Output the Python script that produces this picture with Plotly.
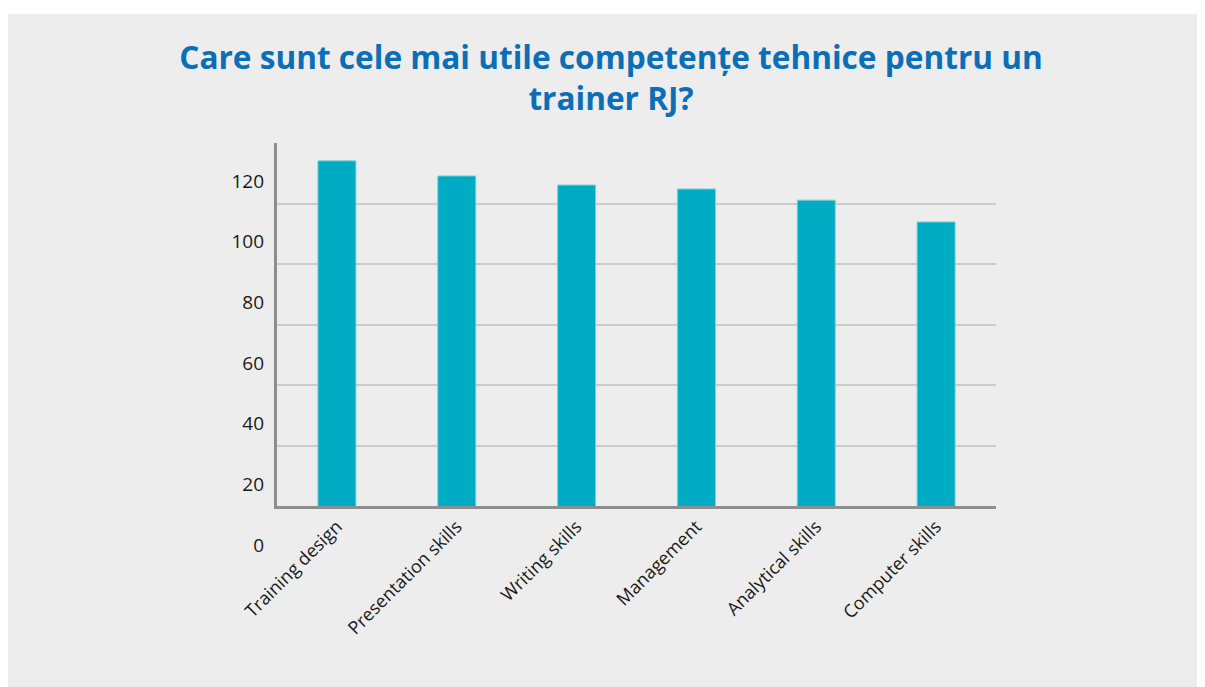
import plotly.graph_objects as go

categories = ["Training design", "Presentation skills", "Writing skills",
              "Management", "Analytical skills", "Computer skills"]
values = [127, 122, 119, 117.7, 114, 106.8]
tick_values = [0, 20, 40, 60, 80, 100, 120]
tick_labels = ["0", "20", "40", "60", "80", "100", "120"]

OFF = 8  # page body margin
W, H = 1205, 687
L = 277 - OFF
R = W - (996 - OFF)
T = 143 - OFF
B = H - (545 - OFF)
ph = H - T - B
pw = W - L - R

BG = "#ECEDEC"
fig = go.Figure()
fig.add_trace(go.Bar(
    x=categories, y=values, marker=dict(color="#00ACC4", line=dict(color="#7ccfdc", width=1)),
    showlegend=False, hoverinfo="x+y"))
fig.add_trace(go.Scatter(
    x=[categories[0]], y=[0], yaxis="y2", mode="markers",
    marker=dict(opacity=0), showlegend=False, hoverinfo="skip"))

fig.update_layout(
    width=W, height=H,
    margin=dict(l=L, r=R, t=T, b=B, pad=0),
    paper_bgcolor="white", plot_bgcolor="rgba(0,0,0,0)",
    bargap=0.683,
    title=dict(text="Care sunt cele mai utile competențe tehnice pentru un<br>trainer RJ?",
               x=603 / W, xanchor="center", xref="container",
               y=1 - 61 / H, yanchor="top", yref="container",
               font=dict(family="Open Sans", size=31.6, color="#0B6FB8", weight="bold")),
    xaxis=dict(showline=True, linecolor="#8E8E8E", linewidth=3, showgrid=False,
               tickangle=-45, tickfont=dict(family="Open Sans", size=18, color="#1a1a1a"),
               ticks="", anchor="y"),
    yaxis=dict(domain=[(545 - 506) / ph, 1], range=[12.9, 132.9], tick0=12.9, dtick=20,
               showticklabels=False, showgrid=True, gridcolor="#CACBCA", gridwidth=1.5,
               showline=True, linecolor="#8E8E8E", linewidth=3, zeroline=False, ticks=""),
    yaxis2=dict(domain=[0, (545 - 181) / ph], range=[0, 120], anchor="x",
                tickvals=tick_values, ticktext=tick_labels, showgrid=False, zeroline=False,
                showline=False, ticks="", ticklabelstandoff=12,
                tickfont=dict(family="Open Sans", size=19, color="#1a1a1a")),
    shapes=[dict(type="rect", xref="paper", yref="paper", layer="below",
                 x0=(-5 - L) / pw, x1=(W + 5 - L) / pw,
                 y0=-(B + 5) / ph, y1=(H - (14 - OFF) - B) / ph,
                 fillcolor=BG, line=dict(width=0))],
)

fig.write_html("out.html")
